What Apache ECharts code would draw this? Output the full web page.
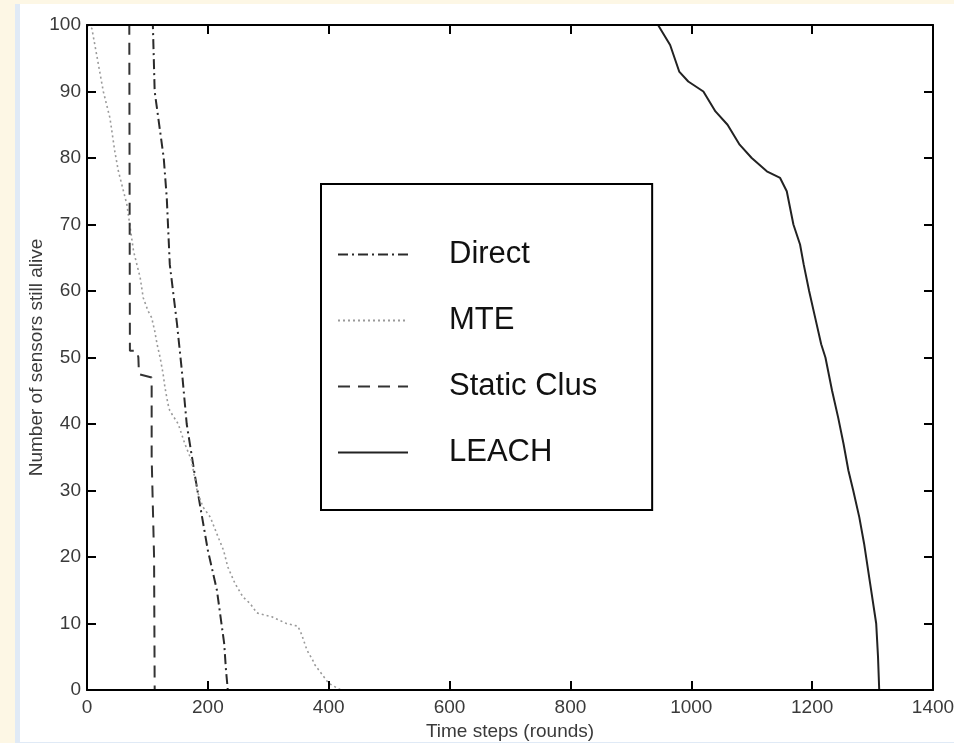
<!DOCTYPE html>
<html>
<head>
<meta charset="utf-8">
<script src="https://cdn.jsdelivr.net/npm/echarts@6/dist/echarts.min.js"></script>
<style>
  html, body { margin: 0; padding: 0; width: 954px; height: 743px; overflow: hidden; background: #fdf7e5; }
  #frame { position: absolute; left: 15px; top: 4px; width: 939px; height: 739px; background: #e0eaf6; }
  #chart { position: absolute; left: 20px; top: 4px; width: 934px; height: 738px; background: #ffffff; }
</style>
</head>
<body>
<div id="frame"></div>
<div id="chart"></div>
<script>
// Sensor-network lifetime: nodes still alive vs. simulation rounds
const xTicks = [0, 200, 400, 600, 800, 1000, 1200, 1400];
const yTicks = [0, 10, 20, 30, 40, 50, 60, 70, 80, 90, 100];

const directRounds = [0, 109, 112, 127, 132, 134, 137, 149, 157, 165, 179, 200, 215, 227, 230, 233, 1400];
const directAlive  = [100, 100, 90, 80, 74, 70, 64, 55, 48, 40, 32, 21, 15, 7, 3, 0, 0];

const mteRounds = [0, 8, 13, 21, 27, 38, 46, 52, 66, 77, 88, 93, 101, 107, 112, 116, 121, 126, 129, 134, 137, 151, 162, 173, 182, 192, 204, 217, 226, 233, 245, 258, 270, 281, 306, 330, 349, 355, 364, 374, 377, 400, 420, 1400];
const mteAlive  = [100, 99.5, 97, 93, 90, 86, 81, 78, 73, 66, 62, 59, 57, 56, 54, 52, 50, 47.5, 45.5, 43, 42, 40, 37, 34.5, 30, 27.5, 26, 23, 21, 18.5, 16, 14, 13, 11.6, 11, 10, 9.6, 8.4, 6, 4.4, 3.8, 1, 0, 0];

const staticRounds = [0, 70, 71, 83, 85, 86, 107, 107, 111, 112, 1400];
const staticAlive  = [100, 100, 51, 51, 50, 47.5, 47, 35, 20, 0, 0];

const leachRounds = [0, 945, 965, 980, 995, 1020, 1040, 1060, 1080, 1100, 1125, 1147, 1158, 1169, 1180, 1186, 1195, 1205, 1215, 1222, 1233, 1243, 1252, 1260, 1268, 1278, 1286, 1296, 1306, 1309, 1311, 1400];
const leachAlive  = [100, 100, 97, 93, 91.5, 90, 87, 85, 82, 80, 78, 77, 75, 70, 67, 64, 60, 56, 52, 50, 45, 41, 37, 33, 30, 26, 22, 16, 10, 5, 0, 0];

const seriesNames = ['Direct', 'MTE', 'Static Clus', 'LEACH'];

function pairs(xs, ys) { return xs.map((x, i) => [x, ys[i]]); }

const FONT = '"Liberation Sans", Arial, sans-serif';
const chart = echarts.init(document.getElementById('chart'), null, { renderer: 'canvas' });

const labelStyle = { fontSize: 19, fontFamily: FONT, color: '#3a3a3a' };

function axisCommon(extra) {
  return Object.assign({
    type: 'value',
    axisLine: { show: true, onZero: false, lineStyle: { color: '#000', width: 2 } },
    axisTick: { show: true, inside: true, length: 9, lineStyle: { color: '#000', width: 2 } },
    splitLine: { show: false },
    z: 3
  }, extra);
}

function lineSeries(name, xs, ys, color, width, dash) {
  return {
    name: name, type: 'line', symbol: 'none', showSymbol: false,
    data: pairs(xs, ys),
    itemStyle: { color: color },
    lineStyle: { color: color, width: width, type: dash },
    z: 2
  };
}

chart.setOption({
  animation: false,
  backgroundColor: '#ffffff',
  grid: { left: 67, top: 21, right: 21, bottom: 52, containLabel: false, outerBoundsMode: 'none' },
  xAxis: [
    axisCommon({
      position: 'bottom', min: 0, max: 1400, interval: 200,
      axisLabel: Object.assign({ margin: 8, formatter: v => xTicks.includes(v) ? String(v) : '' }, labelStyle),
      name: 'Time steps (rounds)', nameLocation: 'middle', nameGap: 32, nameMoveOverlap: false,
      nameTextStyle: Object.assign({}, labelStyle)
    }),
    axisCommon({ position: 'top', min: 0, max: 1400, interval: 200, axisLabel: { show: false } })
  ],
  yAxis: [
    axisCommon({
      position: 'left', min: 0, max: 100, interval: 10,
      axisLabel: Object.assign({ margin: 6, formatter: v => yTicks.includes(v) ? String(v) : '' }, labelStyle),
      name: 'Number of sensors still alive', nameLocation: 'middle', nameGap: 41, nameRotate: 90,
      nameMoveOverlap: false,
      nameTextStyle: Object.assign({}, labelStyle)
    }),
    axisCommon({ position: 'right', min: 0, max: 100, interval: 10, axisLabel: { show: false } })
  ],
  legend: {
    orient: 'vertical',
    left: 301, top: 180,
    backgroundColor: '#ffffff',
    borderColor: '#000', borderWidth: 2, borderRadius: 0,
    padding: [55, 55, 42, 16],
    itemGap: 35, itemWidth: 70, itemHeight: 30,
    itemStyle: { opacity: 0 },
    textStyle: { fontSize: 31, fontFamily: FONT, color: '#111', padding: [0, 0, 0, 36] },
    data: seriesNames
  },
  series: [
    lineSeries('Direct', directRounds, directAlive, '#2a2a2a', 2, [10, 4, 2, 4]),
    lineSeries('MTE', mteRounds, mteAlive, '#9a9a9a', 1.6, [2, 3]),
    lineSeries('Static Clus', staticRounds, staticAlive, '#333333', 2, [12, 8]),
    lineSeries('LEACH', leachRounds, leachAlive, '#222222', 2, 'solid')
  ]
});
</script>
</body>
</html>
